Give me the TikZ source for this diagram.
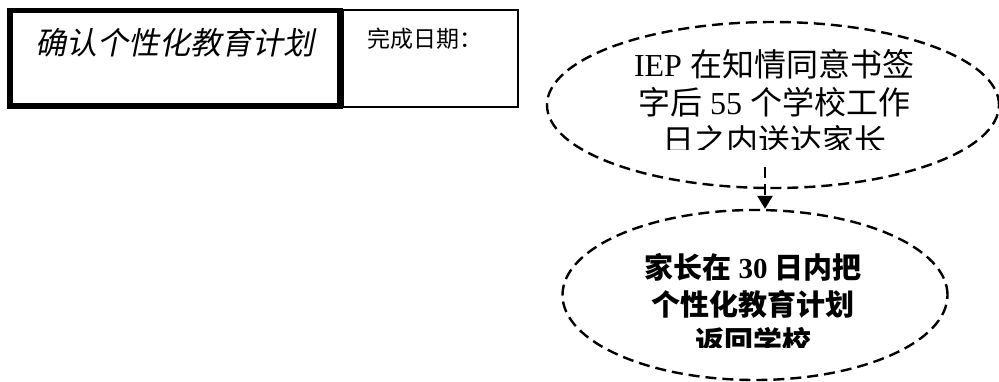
\documentclass[tikz,border=0pt]{standalone}
\usepackage{fontspec}
\setmainfont{Liberation Serif}
\newfontfamily\cjk{Noto Sans CJK SC}
\newfontfamily\cjki[FakeSlant=0.2]{Noto Sans CJK SC}
\usetikzlibrary{shapes.geometric,arrows.meta}
\tikzset{
  dashline/.style={line width=2.4pt, dash pattern=on 11pt off 6pt},
  bubble/.style={ellipse, draw, dashline, inner sep=0pt},
  plainbox/.style={draw, inner sep=0pt},
}
\begin{document}
\begin{tikzpicture}[x=1pt,y=-1pt]
\useasboundingbox (0,0) rectangle (999,381);
% boxes
\node[plainbox, line width=5.5pt, minimum width=330pt, minimum height=95.5pt] (b1) at (175,58) {};
\node[plainbox, line width=1.3pt, minimum width=175pt, minimum height=97pt] (b2) at (430.5,58.5) {};
\node[font=\cjki\fontsize{31}{31}\selectfont] (t0) at (175,43) {确认个性化教育计划};
\node[font=\cjk\fontsize{23}{23}\selectfont] (td) at (425,38.5) {完成日期：};
% ellipses
\node[bubble, minimum width=452pt, minimum height=166pt] (e1) at (773,105) {};
\node[bubble, minimum width=385pt, minimum height=170pt] (e2) at (755,295) {};
\begin{scope}
\clip (540,20) rectangle (1000,149);
\node[align=center, font=\fontsize{32}{38}\selectfont] (t1) at (774,102)
  {IEP {\cjk 在知情同意书签}\\{\cjk 字后} 55 {\cjk 个学校工作}\\{\cjk 日之内送达家长}};
\end{scope}
\begin{scope}
\clip (540,215) rectangle (1000,347);
\node[align=center, font=\bfseries\fontsize{29}{37}\selectfont] (t2) at (753,304)
  {{\cjk\bfseries 家长在} 30 {\cjk\bfseries 日内把}\\{\cjk\bfseries 个性化教育计划}\\{\cjk\bfseries 返回学校}};
\end{scope}
% arrow
\coordinate (as) at (765,167);
\draw[dashline, -{Triangle[length=13pt,width=15pt]}] (as) -- (e2.north -| as);
\end{tikzpicture}
\end{document}
